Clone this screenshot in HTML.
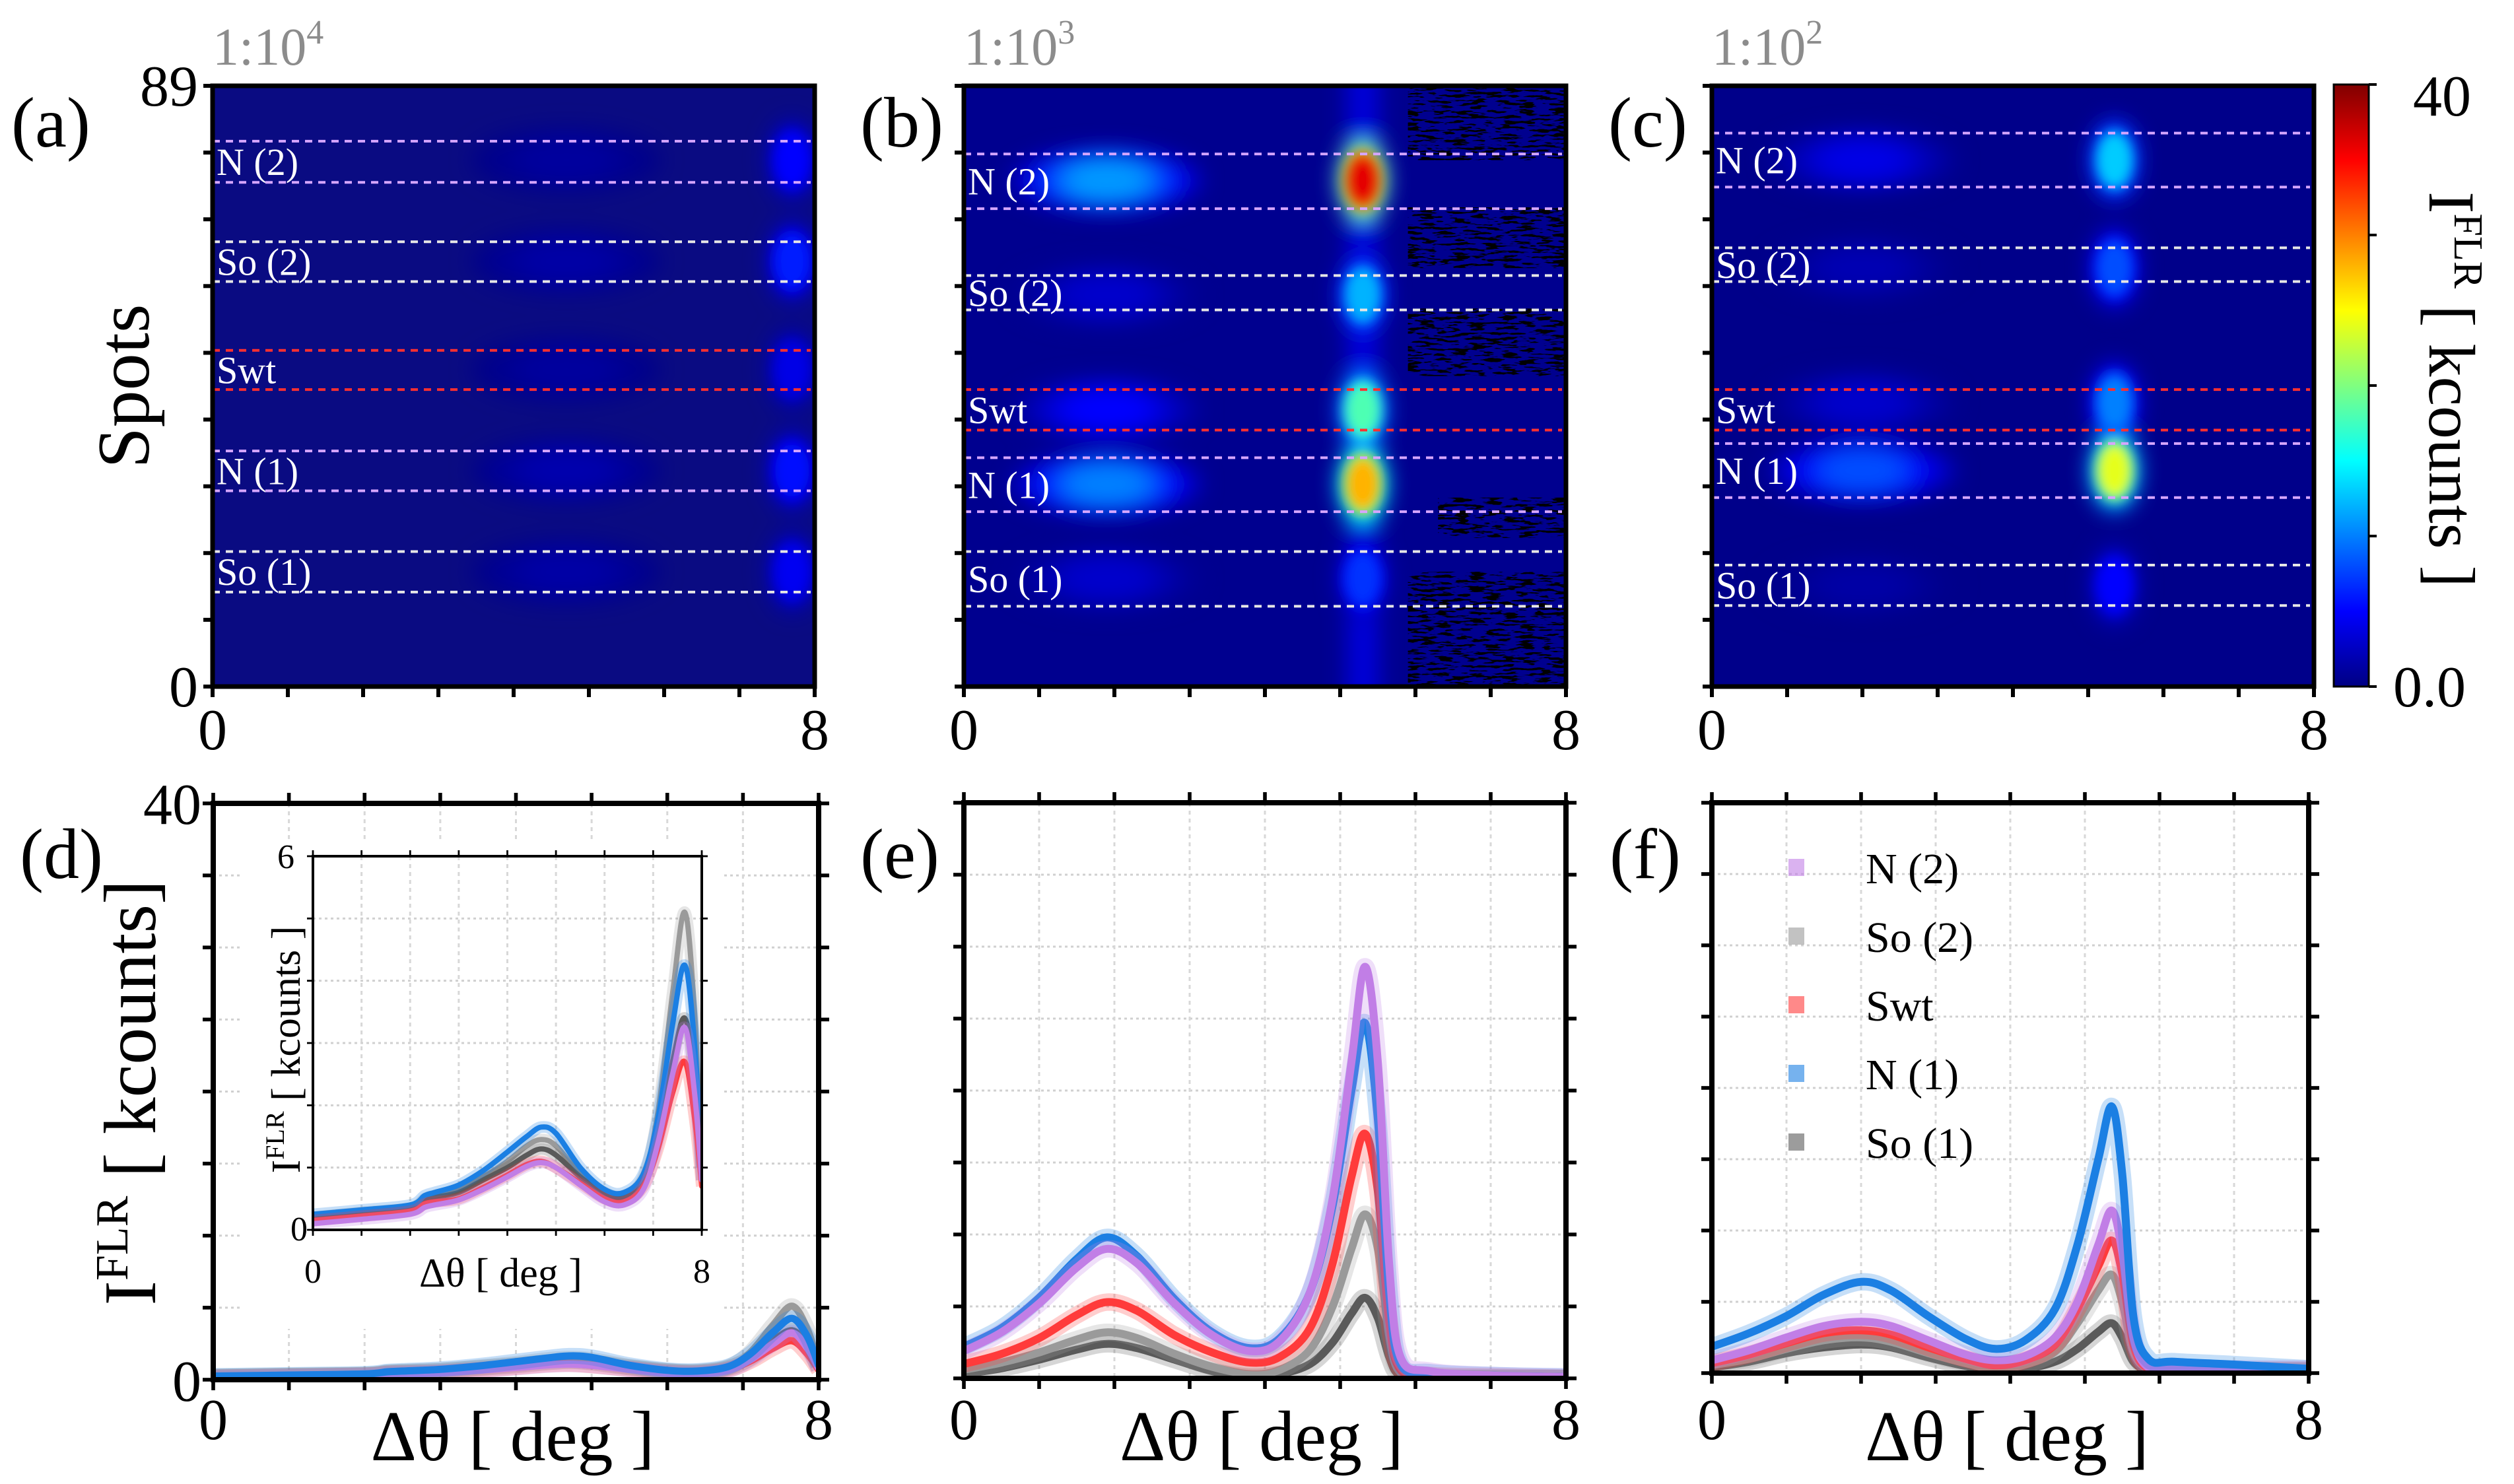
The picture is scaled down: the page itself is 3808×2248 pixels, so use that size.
<!DOCTYPE html>
<html><head><meta charset="utf-8"><style>
html,body{margin:0;padding:0;background:#fff;}
svg{display:block;font-family:"Liberation Serif",serif;}
</style></head><body>
<svg id="fig" width="3808" height="2248" viewBox="0 0 3808 2248" xmlns="http://www.w3.org/2000/svg">
<defs>
<filter id="blur" x="-50%" y="-50%" width="200%" height="200%"><feGaussianBlur stdDeviation="16"/></filter>
<filter id="blurS" x="-50%" y="-50%" width="200%" height="200%"><feGaussianBlur stdDeviation="9"/></filter>
<filter id="noise" x="0" y="0" width="100%" height="100%"><feTurbulence type="fractalNoise" baseFrequency="0.04 0.25" numOctaves="3" seed="7"/><feColorMatrix type="matrix" values="0 0 0 0 0  0 0 0 0 0  0 0 0 0 0  0 0 0 14 -7.4"/></filter>
<linearGradient id="cbar" x1="0" y1="1" x2="0" y2="0">
<stop offset="0" stop-color="#000083"/><stop offset="0.125" stop-color="#0000ff"/><stop offset="0.375" stop-color="#00ffff"/><stop offset="0.625" stop-color="#ffff00"/><stop offset="0.875" stop-color="#ff0000"/><stop offset="1" stop-color="#800000"/>
</linearGradient>
</defs>
</svg>
<script>
// ---------- data ----------
const spotsMax = 89;
const heatA_centers = [78, 63, 47, 32, 17];
const heatA_peak2 = [5, 6, 4, 5.5, 4.5];
const heatA_peak1 = [1.2, 1.5, 1.2, 1.8, 1.5];
const heatA_x2 = 7.7, heatA_x1 = 4.7;
const heatA_lines = [80.8, 74.7, 65.9, 60, 49.8, 44, 34.9, 29, 20, 14];

const heatB_centers = [75, 58, 41, 30, 16];
const heatB_peak2 = [36, 12, 18, 28, 7];
const heatB_peak1 = [11, 3, 5, 10, 3];
const heatB_x2 = 5.3, heatB_x1 = 1.9;
const heatB_lines = [78.9, 70.8, 60.9, 55.8, 44, 38, 33.9, 25.9, 20, 11.9];

const heatC_centers = [78, 62, 42, 32, 15];
const heatC_peak2 = [13, 8, 10, 24, 5];
const heatC_peak1 = [4, 2, 3, 8, 1.5];
const heatC_x2 = 5.35, heatC_x1 = 2.0;
const heatC_lines = [82, 74, 65, 60, 44, 38, 36, 28, 18, 12];

const bandNames = ["N (2)", "So (2)", "Swt", "N (1)", "So (1)"];

const xsE = [0,0.5,1,1.5,1.9,2.3,2.8,3.3,3.8,4.2,4.6,4.9,5.15,5.33,5.5,5.65,5.8,6.2,7,8];
const eN1  = [2.2,3.5,5.6,8.3,9.8,8.5,5.5,3.2,2.1,2.8,6,12,20,24.7,18,6,1,0.4,0.2,0.1];
const eN2  = [1.9,3.2,5.2,7.7,9.0,8.0,5.2,3.0,1.9,2.6,6,12.5,22,28.6,22,8,1.5,0.5,0.2,0.1];
const eSwt = [1.0,1.7,2.8,4.4,5.3,4.7,3.0,1.8,1.1,1.5,3.5,8,14,17,13,4,0.6,0.2,0.1,0];
const eSo2 = [0.6,1.1,1.8,2.7,3.2,2.8,1.7,0.8,0.3,0.6,2.0,5,9,11.4,9,3,0.4,0.1,0,0];
const eSo1 = [0.3,0.7,1.3,2.0,2.4,2.1,1.3,0.5,0.1,0.3,1.0,2.5,4.5,5.6,4.2,1.5,0.2,0,0,0];

const xsF = [0,0.5,1,1.5,2.0,2.4,2.9,3.4,3.8,4.2,4.6,4.9,5.18,5.36,5.5,5.65,5.85,6.2,7,8];
const fN1  = [1.85,2.8,4,5.5,6.4,5.8,4.0,2.4,1.7,2.3,4.5,9,15,18.7,14,4,1.0,0.8,0.6,0.3];
const fN2  = [0.9,1.6,2.5,3.3,3.6,3.3,2.3,1.3,0.9,1.2,2.5,5,9,11.4,8.5,2.5,0.4,0.3,0.3,0.3];
const fSwt = [0.7,1.3,2.1,2.8,3.0,2.7,1.8,1.0,0.55,0.9,2.0,4.5,7.5,9.3,7,2,0.3,0.2,0.2,0.2];
const fSo2 = [0.55,1.0,1.7,2.3,2.5,2.2,1.4,0.7,0.3,0.6,1.5,3.5,5.8,6.9,5,1.5,0.3,0.2,0.2,0.2];
const fSo1 = [0.4,0.8,1.4,1.8,2.0,1.8,1.1,0.5,0.2,0.3,0.8,1.7,2.9,3.5,2.5,0.8,0.2,0.1,0.1,0.1];

const xsD = [0,1,2,2.3,2.5,3,3.5,4,4.4,4.7,5.0,5.5,6.0,6.4,6.8,7.1,7.4,7.65,7.85,8];
const dN1  = [0.25,0.32,0.4,0.55,0.6,0.72,0.95,1.25,1.5,1.65,1.55,1.0,0.65,0.6,0.9,1.8,3.3,4.25,3.0,1.0];
const dSo2 = [0.2,0.28,0.35,0.5,0.55,0.65,0.85,1.1,1.35,1.45,1.35,0.9,0.6,0.55,0.85,1.9,3.8,5.1,3.5,1.0];
const dSo1 = [0.2,0.27,0.33,0.47,0.52,0.6,0.8,1.0,1.2,1.3,1.2,0.85,0.58,0.52,0.8,1.5,2.7,3.4,2.4,0.8];
const dSwt = [0.15,0.22,0.3,0.42,0.45,0.5,0.68,0.88,1.05,1.1,1.0,0.75,0.5,0.45,0.7,1.3,2.2,2.7,1.8,0.7];
const dN2  = [0.1,0.17,0.25,0.36,0.4,0.48,0.65,0.85,1.02,1.08,1.0,0.72,0.45,0.4,0.65,1.4,2.5,3.25,2.2,0.8];

const lineTicksY = [0, 5, 10, 15, 20, 25, 30, 35, 40];
const insetTicksY = [0, 1, 2, 3, 4, 5, 6];
const ticksX = [0, 1, 2, 3, 4, 5, 6, 7, 8];

// ---------- helpers ----------
const NS = 'http://www.w3.org/2000/svg';
const svg = document.getElementById('fig');
function mk(tag, attrs, parent) {
  const e = document.createElementNS(NS, tag);
  for (const k in attrs) e.setAttribute(k, attrs[k]);
  (parent || svg).appendChild(e);
  return e;
}
function cl(v){return Math.max(0, Math.min(1, v));}
function jet(v){
  const t = cl(v / 40);
  const r = cl(1.5 - Math.abs(4*t - 3)), g = cl(1.5 - Math.abs(4*t - 2)), b = cl(1.5 - Math.abs(4*t - 1));
  return 'rgb(' + Math.round(r*255) + ',' + Math.round(g*255) + ',' + Math.round(b*255) + ')';
}
function txt(x, y, s, size, parent, anchor, fill) {
  const t = mk('text', {x: x, y: y, 'font-size': size, 'text-anchor': anchor || 'start', fill: fill || '#000'}, parent);
  t.textContent = s;
  return t;
}
function smooth(pts) {
  let d = 'M' + pts[0][0].toFixed(1) + ',' + pts[0][1].toFixed(1);
  for (let i = 0; i < pts.length - 1; i++) {
    const p0 = pts[Math.max(0, i-1)], p1 = pts[i], p2 = pts[i+1], p3 = pts[Math.min(pts.length-1, i+2)];
    const c1 = [p1[0] + (p2[0]-p0[0])/6, p1[1] + (p2[1]-p0[1])/6];
    const c2 = [p2[0] - (p3[0]-p1[0])/6, p2[1] - (p3[1]-p1[1])/6];
    d += 'C' + c1[0].toFixed(1) + ',' + c1[1].toFixed(1) + ' ' + c2[0].toFixed(1) + ',' + c2[1].toFixed(1) + ' ' + p2[0].toFixed(1) + ',' + p2[1].toFixed(1);
  }
  return d;
}

// ---------- heatmaps ----------
let clipId = 0;
function heatmap(P, name, centers, peak2, peak1, x2, x1, lines, title, label, opts) {
  const g = mk('g', {});
  
  
  const sx = v => P.x0 + (P.x1 - P.x0) * v / 8;
  const sy = v => P.y1 - (P.y1 - P.y0) * v / spotsMax;
  const cid = 'clip' + (clipId++);
  const cp = mk('clipPath', {id: cid}, g);
  mk('rect', {x: P.x0, y: P.y0, width: P.x1 - P.x0, height: P.y1 - P.y0}, cp);
  const bg = mk('rect', {x: P.x0, y: P.y0, width: P.x1 - P.x0, height: P.y1 - P.y0, fill: opts.bg}, g);
  
  
  const inner = mk('g', {'clip-path': 'url(#' + cid + ')'}, g);
  const blurG = mk('g', {filter: 'url(#blur)'}, inner);
  const blurS = mk('g', {filter: 'url(#blurS)'}, inner);
  if (opts.column) {
    mk('rect', {x: sx(x2 - 0.22), y: P.y0 - 40, width: sx(0.44) - sx(0), height: P.y1 - P.y0 + 80, fill: jet(opts.column)}, blurG);
  }
  const levels = [0.3, 0.55, 0.8, 1.0];
  centers.forEach((c, i) => {
    levels.forEach(L => {
      const e1 = mk('ellipse', {cx: sx(x1), cy: sy(c), rx: (sx(1.25) - sx(0)) * (1.25 - L*0.8), ry: (sy(0) - sy(4.5)) * (1.25 - L*0.6), fill: jet(peak1[i] * L)}, blurG);
      
      
    });
    levels.forEach(L => {
      const e2 = mk('ellipse', {cx: sx(x2), cy: sy(c), rx: (sx(0.3) - sx(0)) * (1.3 - L*0.55), ry: (sy(0) - sy(6)) * (1.2 - L*0.55), fill: jet(peak2[i] * L)}, L > 0.7 ? blurS : blurG);
      
      
    });
  });
  if (opts.noise) {
    const ncid = 'nclip' + (clipId++);
    const ncp = mk('clipPath', {id: ncid}, g);
    opts.noise.forEach(r => mk('rect', {x: sx(r[0]), y: sy(r[3]), width: sx(r[1]) - sx(r[0]), height: sy(r[2]) - sy(r[3])}, ncp));
    const nz = mk('rect', {x: P.x0, y: P.y0, width: P.x1 - P.x0, height: P.y1 - P.y0, filter: 'url(#noise)', 'clip-path': 'url(#' + ncid + ')'}, inner);
    
    
  }
  const lineCols = ['#d6a6ff', '#d6a6ff', '#e6e6e6', '#e6e6e6', '#ff3030', '#ff3030', '#d6a6ff', '#d6a6ff', '#e6e6e6', '#e6e6e6'];
  lines.forEach((v, i) => {
    const l = mk('line', {x1: P.x0, x2: P.x1 - 6, y1: sy(v), y2: sy(v), stroke: lineCols[i], 'stroke-width': 4, 'stroke-dasharray': '11 9'}, g);
    
    
  });
  for (let i = 0; i < 5; i++) {
    const t = txt(P.x0 + 6, (sy(lines[2*i]) + sy(lines[2*i+1]))/2 + 20, bandNames[i], 58, g, 'start', '#fff');
    
    
  }
  const fr = mk('rect', {x: P.x0, y: P.y0, width: P.x1 - P.x0, height: P.y1 - P.y0, fill: 'none', stroke: '#000', 'stroke-width': 7}, g);
  
  
  for (let i = 0; i <= 9; i++) {
    const y = P.y0 + (P.y1 - P.y0) * i / 9;
    mk('line', {x1: P.x0 - 14, x2: P.x0, y1: y, y2: y, stroke: '#000', 'stroke-width': 6}, g);
  }
  ticksX.forEach(v => mk('line', {x1: sx(v), x2: sx(v), y1: P.y1, y2: P.y1 + 16, stroke: '#000', 'stroke-width': 6}, g));
  const t0 = txt(sx(0), P.y1 + 95, '0', 88, g, 'middle');  
  const t8 = txt(sx(8), P.y1 + 95, '8', 88, g, 'middle');  
  const tt = mk('text', {x: P.x0, y: 98, 'font-size': 80, fill: '#8c8c8c'}, g);
  
  
  tt.appendChild(document.createTextNode('1:10'));
  const sup = mk('tspan', {'font-size': 52, dy: -32}, tt); sup.textContent = title;
  const pl = txt(P.x0 - 305 + opts.lblShift, 222, label, 108, g);
  
  
  return {g, sx, sy};
}

const A = {x0: 322, x1: 1234, y0: 130, y1: 1040};
const B = {x0: 1460, x1: 2372, y0: 130, y1: 1040};
const C = {x0: 2593, x1: 3505, y0: 130, y1: 1040};
heatmap(A, 'heatmap-a', heatA_centers, heatA_peak2, heatA_peak1, heatA_x2, heatA_x1, heatA_lines, '4', '(a)', {bg: '#0a0b82', lblShift: 0});
heatmap(B, 'heatmap-b', heatB_centers, heatB_peak2, heatB_peak1, heatB_x2, heatB_x1, heatB_lines, '3', '(b)', {bg: '#00008f', lblShift: 148, column: 3.5,
  noise: [[5.9, 8, 78, 89], [5.9, 8, 62, 71], [5.9, 8, 46, 56], [6.3, 8, 22, 28], [5.9, 8, 0, 17]]});
heatmap(C, 'heatmap-c', heatC_centers, heatC_peak2, heatC_peak1, heatC_x2, heatC_x1, heatC_lines, '2', '(c)', {bg: '#00008a', lblShift: 148});

let tl = txt(300, 160, '89', 88, svg, 'end');  
tl = txt(300, 1070, '0', 88, svg, 'end');  
tl = mk('text', {x: 0, y: 0, 'font-size': 112, 'text-anchor': 'middle', transform: 'translate(225,585) rotate(-90)'});
tl.textContent = 'Spots';



// colorbar
const cb = mk('rect', {x: 3535, y: 128, width: 53, height: 912, fill: 'url(#cbar)', stroke: '#000', 'stroke-width': 3});


for (let i = 0; i <= 4; i++) mk('line', {x1: 3588, x2: 3600, y1: 128 + 912*i/4, y2: 128 + 912*i/4, stroke: '#000', 'stroke-width': 4});
tl = txt(3655, 175, '40', 88, svg, 'start');  
tl = txt(3625, 1070, '0.0', 88, svg, 'start');  
tl = mk('text', {x: 0, y: 0, 'font-size': 100, 'text-anchor': 'middle', transform: 'translate(3680,590) rotate(90)'});


tl.appendChild(document.createTextNode('I'));
let sp = mk('tspan', {'font-size': 62, dy: -38}, tl); sp.textContent = 'FLR';
sp = mk('tspan', {dy: 38}, tl); sp.textContent = ' [ kcounts ]';

// ---------- line plots ----------
const seriesCols = {N2: '#c17ee6', So2: '#9a9a9a', Swt: '#ff3b3b', N1: '#1b7fe3', So1: '#5a5a5a'};
function linePlot(P, name, ymax, yticks, xs, series, opts) {
  const g = mk('g', {});
  
  
  const sx = v => P.x0 + (P.x1 - P.x0) * v / 8;
  const sy = v => P.y1 - (P.y1 - P.y0) * v / ymax;
  yticks.forEach(v => { if (v > 0 && v < ymax) mk('line', {x1: P.x0, x2: P.x1, y1: sy(v), y2: sy(v), stroke: '#d0d0d0', 'stroke-width': 3, 'stroke-dasharray': '4 5'}, g); });
  ticksX.forEach(v => { if (v > 0 && v < 8) mk('line', {x1: sx(v), x2: sx(v), y1: P.y0, y2: P.y1, stroke: '#d8d8d8', 'stroke-width': 3, 'stroke-dasharray': '6 6'}, g); });
  const cid = 'lclip' + (clipId++);
  const cp = mk('clipPath', {id: cid}, g);
  mk('rect', {x: P.x0, y: P.y0 - 40, width: P.x1 - P.x0, height: P.y1 - P.y0 + 40}, cp);
  const sg = mk('g', {'clip-path': 'url(#' + cid + ')'}, g);
  series.forEach(s => {
    const pts = xs.map((x, i) => [sx(x), sy(s.v[i])]);
    const band = mk('path', {d: smooth(pts), fill: 'none', stroke: seriesCols[s.k], 'stroke-width': opts.w * 2.2, 'stroke-opacity': 0.25, 'stroke-linejoin': 'round'}, sg);
    
    
    const ln = mk('path', {d: smooth(pts), fill: 'none', stroke: seriesCols[s.k], 'stroke-width': opts.w, 'stroke-linejoin': 'round', 'stroke-linecap': 'round'}, sg);
    
    
  });
  const fr = mk('rect', {x: P.x0, y: P.y0, width: P.x1 - P.x0, height: P.y1 - P.y0, fill: 'none', stroke: '#000', 'stroke-width': opts.frame}, g);
  
  
  const tk = opts.tick;
  yticks.forEach(v => {
    mk('line', {x1: P.x0 - tk, x2: P.x0, y1: sy(v), y2: sy(v), stroke: '#000', 'stroke-width': opts.frame * 0.7}, g);
    mk('line', {x1: P.x1, x2: P.x1 + tk, y1: sy(v), y2: sy(v), stroke: '#000', 'stroke-width': opts.frame * 0.7}, g);
  });
  ticksX.forEach(v => {
    mk('line', {x1: sx(v), x2: sx(v), y1: P.y0 - tk, y2: P.y0, stroke: '#000', 'stroke-width': opts.frame * 0.7}, g);
    mk('line', {x1: sx(v), x2: sx(v), y1: P.y1, y2: P.y1 + tk, stroke: '#000', 'stroke-width': opts.frame * 0.7}, g);
  });
  return {g, sx, sy};
}

const D = {x0: 323, x1: 1240, y0: 1217, y1: 2090};
const E = {x0: 1460, x1: 2372, y0: 1216, y1: 2088};
const F = {x0: 2593, x1: 3497, y0: 1216, y1: 2080};
const I = {x0: 474, x1: 1063, y0: 1297, y1: 1863};
linePlot(D, 'plot-d', 40, lineTicksY, xsD, [{k: 'So1', v: dSo1}, {k: 'So2', v: dSo2}, {k: 'Swt', v: dSwt}, {k: 'N2', v: dN2}, {k: 'N1', v: dN1}], {w: 11, frame: 8, tick: 16});
const ibg = mk('rect', {x: I.x0 - 110, y: I.y0 - 20, width: I.x1 - I.x0 + 140, height: I.y1 - I.y0 + 170, fill: '#fff'});


linePlot(I, 'inset-d', 6, insetTicksY, xsD, [{k: 'So2', v: dSo2}, {k: 'So1', v: dSo1}, {k: 'N1', v: dN1}, {k: 'Swt', v: dSwt}, {k: 'N2', v: dN2}], {w: 8, frame: 4, tick: 9});
linePlot(E, 'plot-e', 40, lineTicksY, xsE, [{k: 'So1', v: eSo1}, {k: 'So2', v: eSo2}, {k: 'Swt', v: eSwt}, {k: 'N1', v: eN1}, {k: 'N2', v: eN2}], {w: 12, frame: 8, tick: 16});
linePlot(F, 'plot-f', 40, lineTicksY, xsF, [{k: 'So1', v: fSo1}, {k: 'So2', v: fSo2}, {k: 'Swt', v: fSwt}, {k: 'N2', v: fN2}, {k: 'N1', v: fN1}], {w: 12, frame: 8, tick: 16});

[[D, '(d)', 30], [E, '(e)', 1303], [F, '(f)', 2438]].forEach(p => {
  const P = p[0];
  let t = txt(p[2], 1330, p[1], 108);  
  t = txt(P.x0, 2180, '0', 88, svg, 'middle');  
  t = txt(P.x1, 2180, '8', 88, svg, 'middle');  
  t = txt((P.x0 + P.x1) / 2 - 5, 2212, 'Δθ [ deg ]', 108, svg, 'middle');  
});
tl = txt(305, 1248, '40', 88, svg, 'end');  
tl = txt(305, 2122, '0', 88, svg, 'end');  
tl = mk('text', {x: 0, y: 0, 'font-size': 112, 'text-anchor': 'middle', transform: 'translate(235,1655) rotate(-90)'});


tl.appendChild(document.createTextNode('I'));
sp = mk('tspan', {'font-size': 70, dy: -42}, tl); sp.textContent = 'FLR';
sp = mk('tspan', {dy: 42}, tl); sp.textContent = ' [ kcounts]';
tl = txt(I.x0 - 28, I.y0 + 18, '6', 52, svg, 'end');  
tl = txt(I.x0 - 8, I.y1 + 16, '0', 52, svg, 'end');  
tl = txt(I.x0, I.y1 + 80, '0', 52, svg, 'middle');  
tl = txt(I.x1, I.y1 + 80, '8', 52, svg, 'middle');  
tl = txt((I.x0 + I.x1) / 2 - 10, I.y1 + 86, 'Δθ [ deg ]', 62, svg, 'middle');  
tl = mk('text', {x: 0, y: 0, 'font-size': 62, 'text-anchor': 'middle', transform: 'translate(' + (I.x0 - 20) + ',1590) rotate(-90)'});


tl.appendChild(document.createTextNode('I'));
sp = mk('tspan', {'font-size': 40, dy: -24}, tl); sp.textContent = 'FLR';
sp = mk('tspan', {dy: 24}, tl); sp.textContent = ' [ kcounts ]';

const legKeys = ['N2', 'So2', 'Swt', 'N1', 'So1'];
const legG = mk('g', {});


legKeys.forEach((k, i) => {
  const y = 1314 + i * 104;
  const r = mk('rect', {x: 2709, y: y - 13, width: 24, height: 26, fill: seriesCols[k], opacity: 0.6}, legG);
  
  
  const t = txt(2826, y + 24, bandNames[i], 66, legG);
  
  
});
</script>
</body></html>
